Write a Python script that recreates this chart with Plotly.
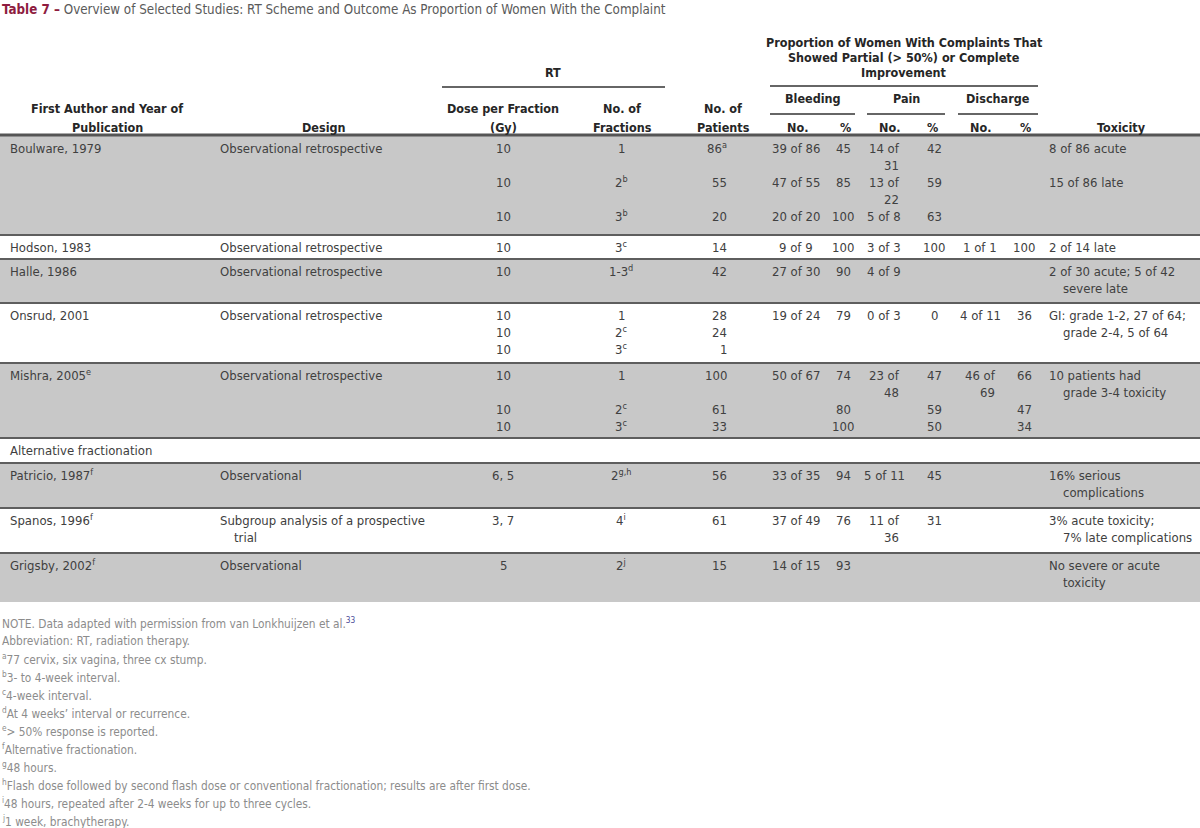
import plotly.graph_objects as go

# ---------------- data ----------------
title_label = "Table 7 –"
title_text = "Overview of Selected Studies: RT Scheme and Outcome As Proportion of Women With the Complaint"

group_lines = [5, 1, 2, 3, 4, 1, 2, 2, 2]
group_shaded = [True, False, True, False, True, False, True, False, True]

col_author = [["Boulware, 1979"], ["Hodson, 1983"], ["Halle, 1986"], ["Onsrud, 2001"],
              ["Mishra, 2005<sup>e</sup>"], ["Alternative fractionation"],
              ["Patricio, 1987<sup>f</sup>"], ["Spanos, 1996<sup>f</sup>"], ["Grigsby, 2002<sup>f</sup>"]]
col_design = [["Observational retrospective"], ["Observational retrospective"],
              ["Observational retrospective"], ["Observational retrospective"],
              ["Observational retrospective"], [], ["Observational"],
              ["Subgroup analysis of a prospective\ntrial"], ["Observational"]]
col_dose = [["10", "", "10", "", "10"], ["10"], ["10"], ["10", "10", "10"],
            ["10", "", "10", "10"], [], ["6, 5"], ["3, 7"], ["5"]]
col_fractions = [["1", "", "2<sup>b</sup>", "", "3<sup>b</sup>"], ["3<sup>c</sup>"], ["1-3<sup>d</sup>"],
                 ["1", "2<sup>c</sup>", "3<sup>c</sup>"], ["1", "", "2<sup>c</sup>", "3<sup>c</sup>"], [],
                 ["2<sup>g,h</sup>"], ["4<sup>i</sup>"], ["2<sup>j</sup>"]]
col_patients = [["86<sup>a</sup>", "", "55", "", "20"], ["14"], ["42"], ["28", "24", "1"],
                ["100", "", "61", "33"], [], ["56"], ["61"], ["15"]]
col_bleed_no = [["39 of 86", "", "47 of 55", "", "20 of 20"], ["9 of 9"], ["27 of 30"], ["19 of 24"],
                ["50 of 67"], [], ["33 of 35"], ["37 of 49"], ["14 of 15"]]
col_bleed_pct = [["45", "", "85", "", "100"], ["100"], ["90"], ["79"], ["74", "", "80", "100"], [],
                 ["94"], ["76"], ["93"]]
col_pain_no = [["14 of\n31", "", "13 of\n22", "", "5 of 8"], ["3 of 3"], ["4 of 9"], ["0 of 3"],
               ["23 of\n48"], [], ["5 of 11"], ["11 of\n36"], []]
col_pain_pct = [["42", "", "59", "", "63"], ["100"], [], ["0"], ["47", "", "59", "50"], [],
                ["45"], ["31"], []]
col_dis_no = [[], ["1 of 1"], [], ["4 of 11"], ["46 of\n69"], [], [], [], []]
col_dis_pct = [[], ["100"], [], ["36"], ["66", "", "47", "34"], [], [], [], []]
col_toxicity = [["8 of 86 acute", "", "15 of 86 late"], ["2 of 14 late"],
                ["2 of 30 acute; 5 of 42\nsevere late"], ["GI: grade 1-2, 27 of 64;\ngrade 2-4, 5 of 64"],
                ["10 patients had\ngrade 3-4 toxicity"], [], ["16% serious\ncomplications"],
                ["3% acute toxicity;\n7% late complications"], ["No severe or acute\ntoxicity"]]

notes = [
    "NOTE. Data adapted with permission from van Lonkhuijzen et al.<sup><span style='color:#4b4b99'>33</span></sup>",
    "Abbreviation: RT, radiation therapy.",
    "<sup>a</sup>77 cervix, six vagina, three cx stump.",
    "<sup>b</sup>3- to 4-week interval.",
    "<sup>c</sup>4-week interval.",
    "<sup>d</sup>At 4 weeks’ interval or recurrence.",
    "<sup>e</sup>&gt; 50% response is reported.",
    "<sup>f</sup>Alternative fractionation.",
    "<sup>g</sup>48 hours.",
    "<sup>h</sup>Flash dose followed by second flash dose or conventional fractionation; results are after first dose.",
    "<sup>i</sup>48 hours, repeated after 2-4 weeks for up to three cycles.",
    "<sup>j</sup>1 week, brachytherapy.",
]

# ---------------- style / layout ----------------
W, H = 1200, 828
FONT = "DejaVu Sans Condensed, DejaVu Sans, sans-serif"
BODY_SIZE = 13
HEAD_SIZE = 12.5
BODY_COLOR = "#404040"
HEAD_COLOR = "#262626"
NOTE_COLOR = "#8c8c8c"
GRAY = "#c8c8c8"
LINE_COLOR = "#5e5e5e"
LINE_H = 17
TOP_PAD = 12
ROW_BOUNDS = [136, 235, 259, 303, 363, 438, 463, 508, 553, 602]

shapes = []
ann = []


def text(x, y, t, size=BODY_SIZE, color=BODY_COLOR, xanchor="left", align="left",
         yanchor="middle", weight="normal"):
    ann.append(dict(x=x, y=y, xref="x", yref="y", text=t, showarrow=False,
                    xanchor=xanchor, yanchor=yanchor, align=align,
                    font=dict(family=FONT, size=size, color=color, weight=weight)))


def hline(x0, x1, y, color=LINE_COLOR, width=1.5):
    shapes.append(dict(type="line", xref="x", yref="y", x0=x0, x1=x1, y0=y, y1=y,
                       line=dict(color=color, width=width)))


# title
text(0, 9, f"<b><span style='color:#8e1c40'>{title_label}</span></b> "
           f"<span style='color:#5a5a5a'>{title_text}</span>", size=13.3)

# header
for t, x, y in [("First Author and Year of", 107, 108), ("Publication", 107, 127),
                ("Design", 324, 127), ("RT", 553, 72),
                ("Dose per Fraction", 503, 108), ("(Gy)", 503, 127),
                ("No. of", 622, 108), ("Fractions", 622, 127),
                ("No. of", 723, 108), ("Patients", 723, 127),
                ("Proportion of Women With Complaints That", 904, 42),
                ("Showed Partial (&gt; 50%) or Complete", 904, 57),
                ("Improvement", 904, 72),
                ("Bleeding", 813, 98), ("Pain", 906, 98), ("Discharge", 998, 98),
                ("No.", 797, 127), ("%", 845, 127), ("No.", 889, 127), ("%", 932, 127),
                ("No.", 980, 127), ("%", 1025, 127), ("Toxicity", 1121, 127)]:
    text(x, y, t, size=HEAD_SIZE, color=HEAD_COLOR, xanchor="center", align="center", weight="bold")

hline(442, 665, 87, "#333333", 1.5)
hline(770, 1038, 86, "#333333", 1.5)
hline(770, 855, 114, "#333333", 1.5)
hline(867, 945, 114, "#333333", 1.5)
hline(958, 1038, 114, "#333333", 1.5)

# body rows
col_specs = [
    (col_author, 8, "indent"),
    (col_design, 218, "indent"),
    (col_dose, 503, "center"),
    (col_fractions, 621, "center"),
    (col_patients, 729, "right"),
    (col_bleed_no, 796, "stack"),
    (col_bleed_pct, 843, "center"),
    (col_pain_no, 884, "stack"),
    (col_pain_pct, 934, "center"),
    (col_dis_no, 980, "stack"),
    (col_dis_pct, 1024, "center"),
    (col_toxicity, 1047, "indent"),
]

for g, n in enumerate(group_lines):
    top, bottom = ROW_BOUNDS[g], ROW_BOUNDS[g + 1]
    if group_shaded[g]:
        shapes.append(dict(type="rect", xref="x", yref="y", x0=0, x1=W, y0=top, y1=bottom,
                           fillcolor=GRAY, line=dict(width=0), layer="below"))
    for col, x, mode in col_specs:
        for i, cell in enumerate(col[g]):
            if not cell:
                continue
            y = top + TOP_PAD + i * LINE_H
            parts = cell.split("\n")
            if mode == "indent":
                for j, p in enumerate(parts):
                    text(x + (14 if j else 0), y + j * LINE_H, p)
            elif mode == "stack":
                yy = y + (len(parts) - 1) * LINE_H / 2
                text(x, yy, "<br>".join(parts), xanchor="center", align="right")
            elif mode == "right":
                text(x, y, cell, xanchor="right", align="right")
            else:
                text(x, y, cell, xanchor="center", align="center")

# separators
hline(0, W, ROW_BOUNDS[0] - 1, "#555555", 3)
for b in ROW_BOUNDS[1:-1]:
    hline(0, W, b, LINE_COLOR, 1.8)

# notes
NOTE_TOP = 623
for k, t in enumerate(notes):
    text(0, NOTE_TOP + k * 18, t, size=11.8, color=NOTE_COLOR)

fig = go.Figure()
fig.update_layout(
    width=W, height=H, margin=dict(l=0, r=0, t=0, b=0),
    paper_bgcolor="white", plot_bgcolor="white",
    xaxis=dict(range=[0, W], visible=False, fixedrange=True),
    yaxis=dict(range=[H, 0], visible=False, fixedrange=True),
    shapes=shapes, annotations=ann, showlegend=False,
)
fig.write_html("out.html", config={"displayModeBar": False},
               post_script="document.body.style.margin='0';")
